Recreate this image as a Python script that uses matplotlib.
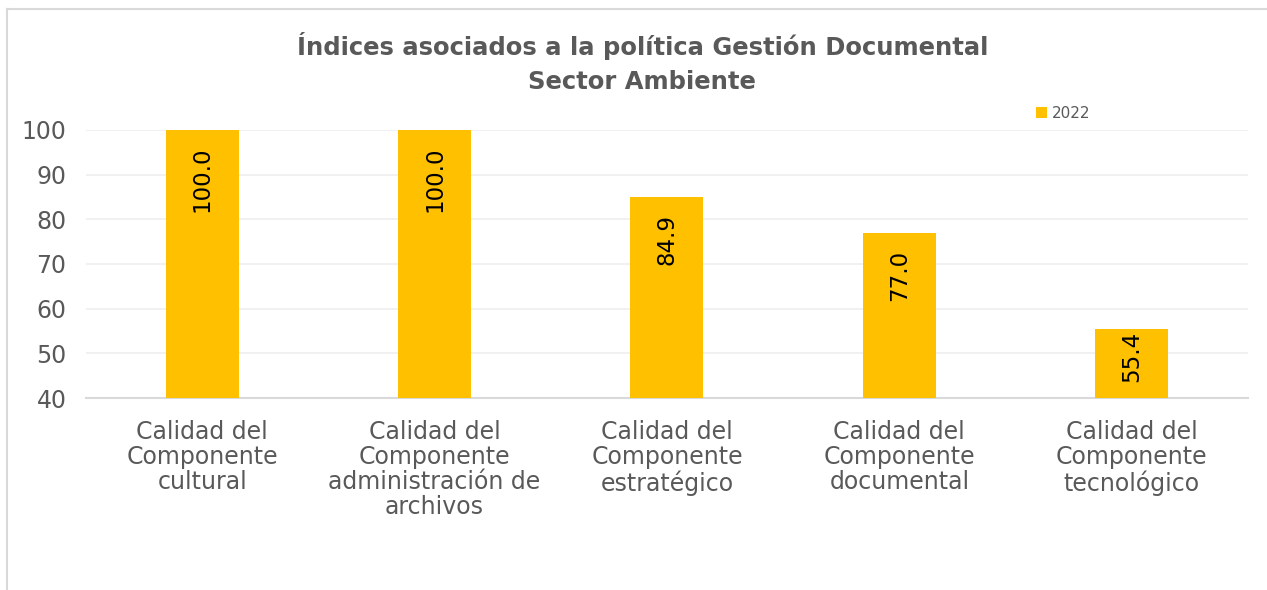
import matplotlib.pyplot as plt
from matplotlib.lines import Line2D

categorias = ["Calidad del\nComponente\ncultural",
              "Calidad del\nComponente\nadministración de\narchivos",
              "Calidad del\nComponente\nestratégico",
              "Calidad del\nComponente\ndocumental",
              "Calidad del\nComponente\ntecnológico"]
valores_2022 = [100.0, 100.0, 84.9, 77.0, 55.4]
ticks_y = [40, 50, 60, 70, 80, 90, 100]

gris = "#595959"
oro = "#FFC000"

plt.rcParams['font.family'] = ['DejaVu Sans']

fig = plt.figure(figsize=(12.67, 5.9), dpi=100)
ax = fig.add_axes([0.0679, 0.3254, 0.917, 0.4543])

x = range(len(categorias))
bars = ax.bar(x, [v - 40 for v in valores_2022], bottom=40, width=0.314,
              color=oro, label="2022", zorder=3)

ax.set_ylim(40, 100)
ax.set_xlim(-0.5, len(categorias) - 0.5)
ax.set_yticks(ticks_y)
ax.set_xticks(list(x))
ax.set_xticklabels(categorias, fontsize=17, color=gris, linespacing=1.05)
ax.tick_params(axis='y', labelsize=17, labelcolor=gris, length=0, pad=14)
ax.tick_params(axis='x', length=0, pad=16)
ax.grid(axis='y', color='#EFEFEF', linewidth=1.2, zorder=0)
for s in ['top', 'right', 'left']:
    ax.spines[s].set_visible(False)
ax.spines['bottom'].set_color('#D9D9D9')
ax.spines['bottom'].set_linewidth(1.5)

# etiquetas de valor: 17 px bajo el tope, sin pasar de 16 px sobre la base
px = 60.0 / ax.bbox.height  # unidades de datos por pixel
etiquetas = []
for i, v in enumerate(valores_2022):
    t = ax.text(i, v - 17 * px, "{:.1f}".format(v), rotation=90, ha='center',
                va='top', fontsize=16.5, color='black', zorder=4)
    etiquetas.append(t)
fig.canvas.draw()
r = fig.canvas.get_renderer()
for t, v in zip(etiquetas, valores_2022):
    alto = t.get_window_extent(r).height * px
    if v - 17 * px - alto < 40 + 16 * px:
        t.set_y(40 + 16 * px + alto)

fig.text(0.507, 0.893, "Índices asociados a la política Gestión Documental\nSector Ambiente",
         ha='center', va='center', fontsize=17.5, fontweight='bold', color=gris,
         linespacing=1.5)

ax.legend(loc='lower left', bbox_to_anchor=(0.81, 1.0), frameon=False, fontsize=11,
          labelcolor=gris, handlelength=0.7, handleheight=0.7, handletextpad=0.3,
          borderaxespad=0.2)

# borde del gráfico (solo izquierda y arriba visibles)
xb = 6.5 / 1267
yb = 1 - 9 / 590
fig.add_artist(Line2D([xb, 1.0], [yb, yb], transform=fig.transFigure,
                      color='#D9D9D9', linewidth=1.5))
fig.add_artist(Line2D([xb, xb], [0.0, yb], transform=fig.transFigure,
                      color='#D9D9D9', linewidth=1.5))

fig.savefig("out.png", dpi=100)
